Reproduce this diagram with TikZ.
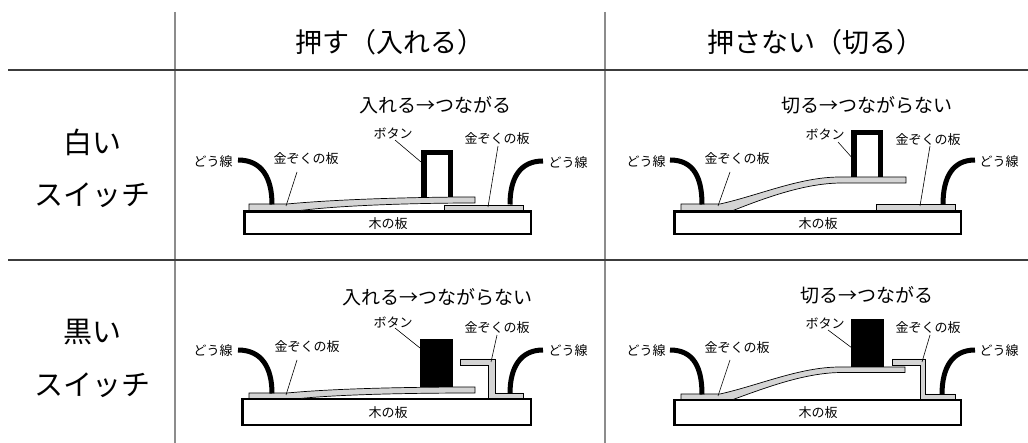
\documentclass[tikz,border=0pt]{standalone}
\usepackage{fontspec}
\newfontfamily\jp{Noto Sans CJK JP}
\definecolor{plategray}{RGB}{212,212,212}
\definecolor{rulegray}{RGB}{140,140,140}
\definecolor{ruledark}{RGB}{60,60,60}
\begin{document}
\begin{tikzpicture}[x=1pt,y=-1pt,
  head/.style={font=\jp\fontsize{27}{30}\selectfont, inner sep=0pt},
  rowlbl/.style={font=\jp\fontsize{29}{32}\selectfont, inner sep=0pt},
  title/.style={font=\jp\fontsize{19}{22}\selectfont, inner sep=0pt},
  lbl/.style={font=\jp\fontsize{13}{15}\selectfont, inner sep=0pt},
  hrule/.style={draw=ruledark, line width=1.3pt},
  vrule/.style={draw=rulegray, line width=1.6pt},
  board/.style={draw=black, fill=white, line width=2.5pt},
  plate/.style={draw=black, fill=plategray, line width=0.7pt, line join=miter},
  wire/.style={draw=black, line width=5pt, line cap=butt},
  btnframe/.style={draw=black, line width=5.5pt, line cap=butt, line join=miter},
  btnsolid/.style={fill=black},
  leader/.style={draw=black, line width=0.6pt}]
\useasboundingbox (0,0) rectangle (1028,443);

% ---------- table rules ----------
\coordinate (h1a) at (8,70);   \coordinate (h1b) at (1028,70);
\coordinate (h2a) at (8,260);  \coordinate (h2b) at (1028,260);
\coordinate (v1a) at (175,12); \coordinate (v1b) at (175,443);
\coordinate (v2a) at (605,12); \coordinate (v2b) at (605,443);
\draw[vrule] (v1a) -- (v1b);
\draw[vrule] (v2a) -- (v2b);
\draw[hrule] (h1a) -- (h1b);
\draw[hrule] (h2a) -- (h2b);

% ---------- headers ----------
\node[head] (colA) at (390,42) {押す（入れる）};
\node[head] (colB) at (815,42) {押さない（切る）};
\node[rowlbl] (rowA1) at (92,142) {白い};
\node[rowlbl] (rowA2) at (92,195) {スイッチ};
\node[rowlbl] (rowB1) at (92,332) {黒い};
\node[rowlbl] (rowB2) at (92,385) {スイッチ};

% ================= white switch, pressed =================
\node[title] (t1) at (435,105) {入れる→つながる};
\draw[board] (244.25,211.75) rectangle (530.75,234.25);
\node[lbl] (b1) at (388,224) {木の板};
\draw[plate] (444,205) rectangle (523,210.5);
\draw[plate] (249,210.5) -- (249,204) -- (287,204)
  .. controls (340,199) and (420,197) .. (475,197) -- (475,203)
  .. controls (420,203) and (345,205) .. (300,210.5) -- cycle;
\draw[btnframe] (423.75,197) -- (423.75,152.75) -- (450.25,152.75) -- (450.25,197);
\coordinate (w1a) at (238,160); \coordinate (w1b) at (272,204.5);
\coordinate (w1c) at (510,204.5); \coordinate (w1d) at (543,161);
\draw[wire] (w1a) .. controls (262,160) and (272,178) .. (w1b);
\draw[wire] (w1c) .. controls (510,178) and (520,161) .. (w1d);
\node[lbl] (d1l) at (213,162) {どう線};
\node[lbl] (d1r) at (568,163) {どう線};
\node[lbl] (m1l) at (306,159) {金ぞくの板};
\node[lbl] (m1r) at (497,139) {金ぞくの板};
\node[lbl] (k1) at (393,133) {ボタン};
\coordinate (l1a) at (297,172); \coordinate (l1b) at (286,206);
\coordinate (l1c) at (395,140); \coordinate (l1d) at (421,162);
\coordinate (l1e) at (498,146); \coordinate (l1f) at (488,207);
\draw[leader] (l1a) -- (l1b);
\draw[leader] (l1c) -- (l1d);
\draw[leader] (l1e) -- (l1f);

% ================= white switch, released =================
\node[title] (t2) at (867,105) {切る→つながらない};
\draw[board] (674.25,211.75) rectangle (960.75,234.25);
\node[lbl] (b2) at (818,224) {木の板};
\draw[plate] (876,204) rectangle (955,210.5);
\draw[plate] (681,210.5) -- (681,204) -- (720,204)
  .. controls (760,195) and (800,177) .. (840,177) -- (906,177) -- (906,183)
  -- (842,183) .. controls (805,183) and (765,198) .. (733,210.5) -- cycle;
\draw[btnframe] (853.75,177) -- (853.75,132.75) -- (880.25,132.75) -- (880.25,177);
\coordinate (w2a) at (670,160); \coordinate (w2b) at (702,204.5);
\coordinate (w2c) at (943,204.5); \coordinate (w2d) at (975,160);
\draw[wire] (w2a) .. controls (694,160) and (702,178) .. (w2b);
\draw[wire] (w2c) .. controls (943,178) and (952,160) .. (w2d);
\node[lbl] (d2l) at (646,162) {どう線};
\node[lbl] (d2r) at (999,162) {どう線};
\node[lbl] (m2l) at (737,159) {金ぞくの板};
\node[lbl] (m2r) at (928,140) {金ぞくの板};
\node[lbl] (k2) at (825,134) {ボタン};
\coordinate (l2a) at (730,172); \coordinate (l2b) at (718,206);
\coordinate (l2c) at (838,142); \coordinate (l2d) at (854,160);
\coordinate (l2e) at (930,146); \coordinate (l2f) at (920,206);
\draw[leader] (l2a) -- (l2b);
\draw[leader] (l2c) -- (l2d);
\draw[leader] (l2e) -- (l2f);

% ================= black switch, pressed =================
\node[title] (t3) at (437,297) {入れる→つながらない};
\draw[board] (242.25,399.25) rectangle (530.75,424.75);
\node[lbl] (b3) at (388,413) {木の板};
\draw[plate] (460,359) -- (495,359) -- (495,393) -- (523,393) -- (523,398.5)
  -- (488,398.5) -- (488,365) -- (460,365) -- cycle;
\draw[plate] (249,398.5) -- (249,393) -- (287,393)
  .. controls (340,388) and (420,387) .. (475,387) -- (475,393)
  .. controls (420,393) and (345,394) .. (300,398.5) -- cycle;
\fill[btnsolid] (420,339) rectangle (453,387);
\coordinate (w3a) at (238,350); \coordinate (w3b) at (272,393.5);
\coordinate (w3c) at (510,393.5); \coordinate (w3d) at (543,350);
\draw[wire] (w3a) .. controls (262,350) and (272,368) .. (w3b);
\draw[wire] (w3c) .. controls (510,368) and (520,350) .. (w3d);
\node[lbl] (d3l) at (213,351) {どう線};
\node[lbl] (d3r) at (568,351) {どう線};
\node[lbl] (m3l) at (307,347) {金ぞくの板};
\node[lbl] (m3r) at (497,328) {金ぞくの板};
\node[lbl] (k3) at (393,322) {ボタン};
\coordinate (l3a) at (297,360); \coordinate (l3b) at (286,395);
\coordinate (l3c) at (395,328); \coordinate (l3d) at (420,348);
\coordinate (l3e) at (497,335); \coordinate (l3f) at (491,362);
\draw[leader] (l3a) -- (l3b);
\draw[leader] (l3c) -- (l3d);
\draw[leader] (l3e) -- (l3f);

% ================= black switch, released =================
\node[title] (t4) at (867,295) {切る→つながる};
\draw[board] (674.25,400.25) rectangle (960.75,424.75);
\node[lbl] (b4) at (818,413) {木の板};
\draw[plate] (892,359) -- (925,359) -- (925,394) -- (955,394) -- (955,399.5)
  -- (920,399.5) -- (920,365) -- (892,365) -- cycle;
\draw[plate] (681,399.5) -- (681,394) -- (720,394)
  .. controls (760,385) and (800,367) .. (840,367) -- (905,367) -- (905,372.5)
  -- (842,372.5) .. controls (805,372.5) and (765,388) .. (733,399.5) -- cycle;
\fill[btnsolid] (851,319) rectangle (884,367);
\coordinate (w4a) at (670,350); \coordinate (w4b) at (702,394.5);
\coordinate (w4c) at (942,394.5); \coordinate (w4d) at (975,350);
\draw[wire] (w4a) .. controls (694,350) and (702,368) .. (w4b);
\draw[wire] (w4c) .. controls (942,368) and (952,350) .. (w4d);
\node[lbl] (d4l) at (646,351) {どう線};
\node[lbl] (d4r) at (999,351) {どう線};
\node[lbl] (m4l) at (737,348) {金ぞくの板};
\node[lbl] (m4r) at (928,328) {金ぞくの板};
\node[lbl] (k4) at (825,323) {ボタン};
\coordinate (l4a) at (730,360); \coordinate (l4b) at (718,396);
\coordinate (l4c) at (828,330); \coordinate (l4d) at (852,348);
\coordinate (l4e) at (930,335); \coordinate (l4f) at (922,362);
\draw[leader] (l4a) -- (l4b);
\draw[leader] (l4c) -- (l4d);
\draw[leader] (l4e) -- (l4f);
\end{tikzpicture}
\end{document}
